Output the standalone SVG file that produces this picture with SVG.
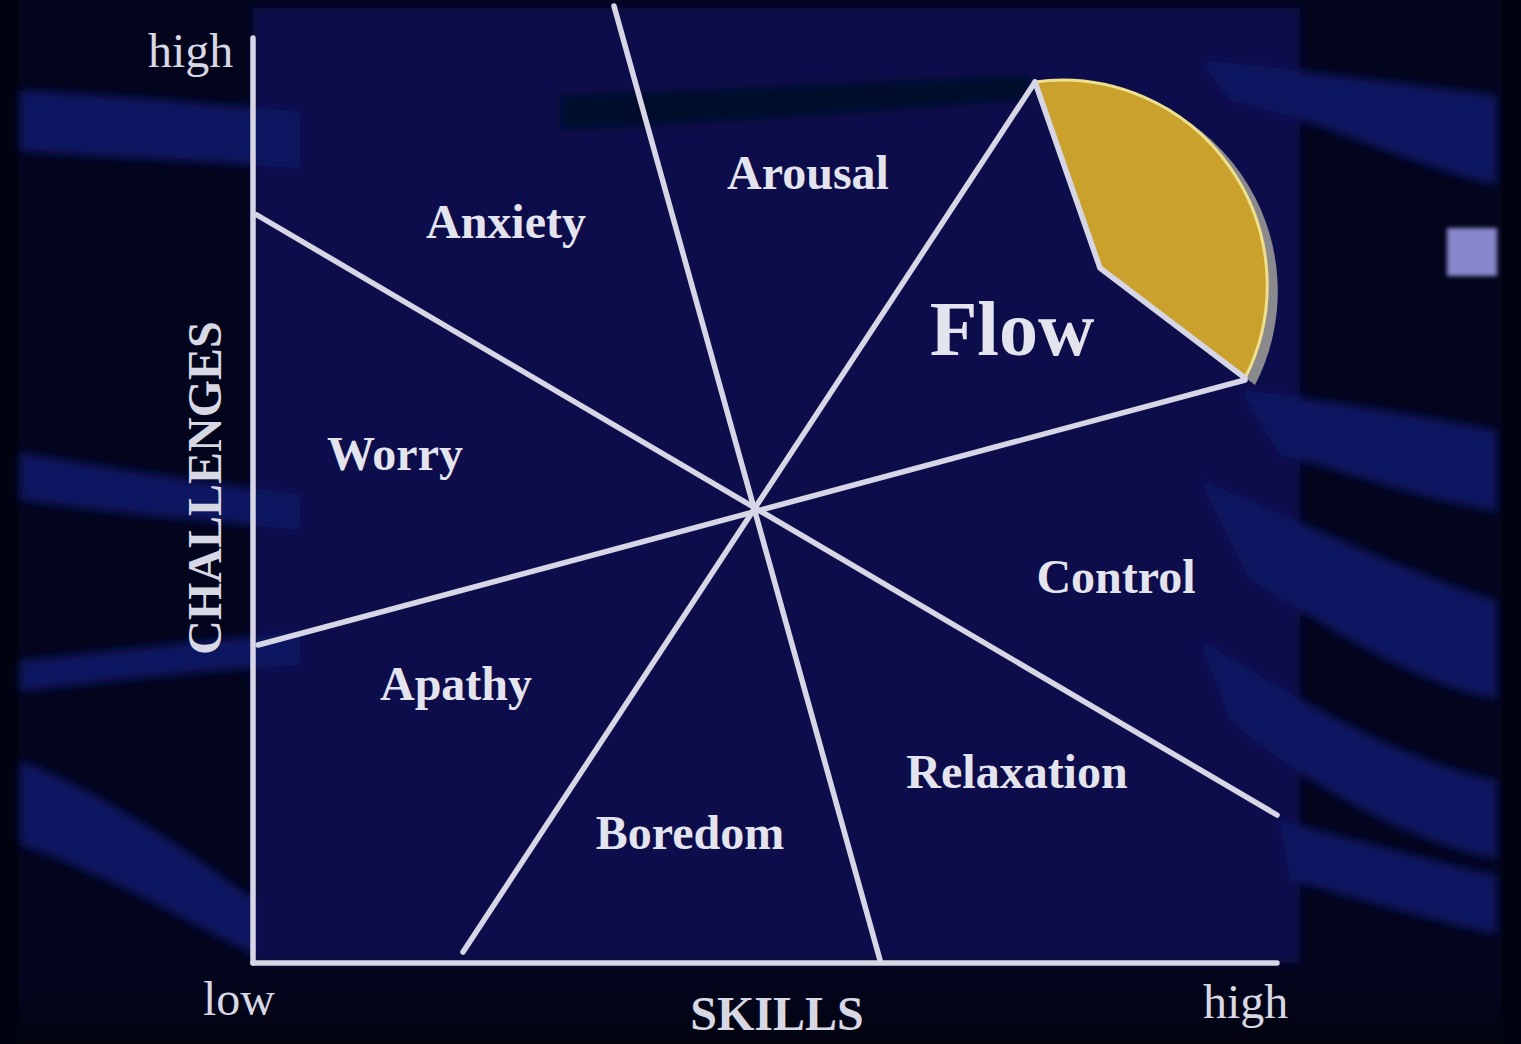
<svg xmlns="http://www.w3.org/2000/svg" width="1521" height="1044" viewBox="0 0 1521 1044">
<defs>
<style>
.lbl{font-family:"Liberation Serif","Times New Roman",serif;font-weight:bold;font-size:48px;fill:#e4e4ee;text-anchor:middle}
.ax{font-family:"Liberation Serif","Times New Roman",serif;font-size:48px;fill:#d8d8e4}
.ln{stroke:#d6d6e6;stroke-width:5.5;stroke-linecap:round;fill:none}
.band{fill:#0a1460}
</style>
<filter id="soft" x="-5%" y="-5%" width="110%" height="110%"><feGaussianBlur stdDeviation="5"/></filter>
<filter id="sq" x="-30%" y="-30%" width="160%" height="160%"><feGaussianBlur stdDeviation="2"/></filter>
<linearGradient id="bot" x1="0" y1="0" x2="0" y2="1">
<stop offset="0" stop-color="#04061f" stop-opacity="0"/>
<stop offset="1" stop-color="#02030c" stop-opacity="1"/>
</linearGradient>
</defs>

<g id="background">
<rect x="0" y="0" width="1521" height="1044" fill="#010210"/>
<rect x="18" y="0" width="1484" height="1044" fill="#03051c"/>
<g filter="url(#soft)">
<path d="M253,8 L1300,8 L1300,963 L253,963 Z" fill="#09104c"/>
<path d="M560,95 C700,90 900,80 1030,75 L1030,100 C900,110 700,125 560,130 Z" fill="#05072a"/>
<path class="band" d="M20,90 C120,95 200,102 300,112 L300,168 C200,162 120,158 20,152 Z"/>
<path class="band" d="M1200,60 C1300,70 1420,85 1497,95 L1497,185 C1420,170 1320,120 1230,100 Z"/>
<path class="band" d="M20,452 C120,470 200,480 300,495 L300,530 C200,520 120,515 20,500 Z"/>
<path class="band" d="M20,660 C120,650 200,640 300,632 L300,665 C200,672 120,680 20,692 Z"/>
<path class="band" d="M20,760 C120,800 200,860 255,900 L255,955 C200,930 120,880 20,845 Z"/>
<path class="band" d="M1240,390 C1330,400 1420,415 1497,430 L1497,512 C1420,500 1340,470 1280,455 Z"/>
<path class="band" d="M1200,480 C1300,520 1400,570 1497,600 L1497,700 C1400,680 1320,620 1250,580 Z"/>
<path class="band" d="M1200,640 C1300,700 1400,760 1497,780 L1497,860 C1400,840 1300,780 1230,720 Z"/>
<path class="band" d="M1280,820 C1360,840 1430,860 1497,875 L1497,935 C1430,920 1360,900 1290,880 Z"/>
</g>
<rect x="18" y="970" width="1484" height="74" fill="url(#bot)"/>
<rect x="1447" y="228" width="50" height="48" fill="#8886cc" filter="url(#sq)"/>
</g>

<g id="flow-wedge">
<path d="M1045,88 L1110,274 L1255,385 A205,205 0 0 0 1045,88 Z" fill="#8a8a8e"/>
<path d="M1035,82 L1100,268 L1245,378 A205,205 0 0 0 1035,82 Z" fill="#c9a12c"/>
<path d="M1245,378 A205,205 0 0 0 1035,82" fill="none" stroke="#efe08c" stroke-width="3"/>
</g>

<g id="connectors">
<line class="ln" x1="253" y1="38" x2="253" y2="963"/>
<line class="ln" x1="253" y1="963" x2="1277" y2="963"/>
<line class="ln" x1="257" y1="215" x2="1277" y2="815"/>
<line class="ln" x1="258" y1="645" x2="1245" y2="380"/>
<line class="ln" x1="614" y1="6" x2="880" y2="960"/>
<line class="ln" x1="463" y1="952" x2="1035" y2="82"/>
<polyline class="ln" points="1035,82 1100,268 1245,378"/>
</g>

<g id="labels">
<text id="anxiety" class="lbl" x="506" y="238">Anxiety</text>
<text id="arousal" class="lbl" x="808" y="189">Arousal</text>
<text id="flow" class="lbl" x="1012" y="355" style="font-size:78px">Flow</text>
<text id="worry" class="lbl" x="395" y="470">Worry</text>
<text id="control" class="lbl" x="1116" y="593">Control</text>
<text id="apathy" class="lbl" x="456" y="700">Apathy</text>
<text id="relaxation" class="lbl" x="1017" y="788">Relaxation</text>
<text id="boredom" class="lbl" x="690" y="849">Boredom</text>
</g>

<g id="axes-labels">
<text class="ax" x="148" y="67">high</text>
<text class="ax" x="203" y="1015">low</text>
<text class="ax" x="1203" y="1018">high</text>
<text class="lbl" x="777" y="1030" style="fill:#d8d8e4">SKILLS</text>
<text class="lbl" transform="translate(221,488) rotate(-90)" x="0" y="0" style="fill:#d8d8e4">CHALLENGES</text>
</g>
</svg>
